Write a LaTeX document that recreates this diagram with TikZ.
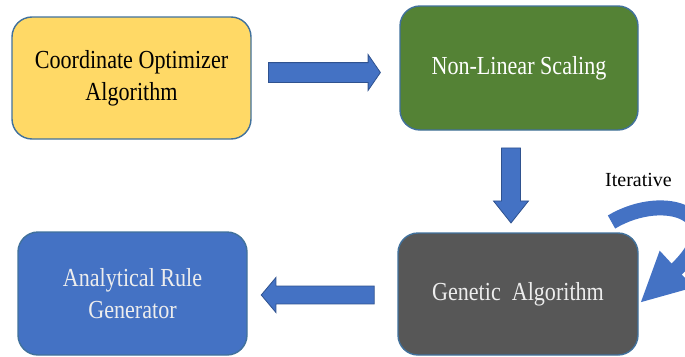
\documentclass[tikz,border=0pt]{standalone}
\usepackage{fontspec}
\setmainfont{Liberation Serif}
\newfontfamily\boxfont{Liberation Serif}[FakeStretch=0.85]
\usetikzlibrary{shapes.arrows,arrows.meta}
\definecolor{optyellow}{HTML}{FFD966}
\definecolor{scalegreen}{HTML}{548235}
\definecolor{gagray}{HTML}{575757}
\definecolor{rulesblue}{HTML}{4472C4}
\definecolor{boxedge}{HTML}{41719C}
\definecolor{arrowedge}{HTML}{2F528F}
\begin{document}
\begin{tikzpicture}[x=1pt,y=-1pt,
  stage/.style={draw=boxedge,line width=1.4pt,rounded corners=20pt,inner sep=0pt,
    align=center,font=\boxfont\fontsize{26}{32}\selectfont},
  flowarrow/.style={shape=single arrow,draw=arrowedge,fill=rulesblue,line width=0.8pt,
    inner xsep=0pt,minimum width=35pt,single arrow head extend=8pt}]
\useasboundingbox (0,0) rectangle (685,356);
% the four stages
\node [stage,fill=optyellow,minimum width=239pt,minimum height=122pt] (coord) at (131.5,78) {Coordinate Optimizer\\Algorithm};
\node [stage,fill=scalegreen,text=white,minimum width=238pt,minimum height=124pt] (scale) at (519,68) {Non-Linear Scaling};
\node [stage,fill=gagray,text=white!93!black,minimum width=240pt,minimum height=122pt] (genetic) at (518,294) {Genetic~ Algorithm};
\node [stage,fill=rulesblue,text=white!93!black,minimum width=229pt,minimum height=123pt] (rules) at (132.5,293.5) {Analytical Rule\\Generator};
% block arrows between them
\node [flowarrow,inner ysep=9.5pt,minimum height=112pt,single arrow tip angle=111] (toscale) at (321,72.5) {};
\node [flowarrow,inner ysep=9pt,minimum height=75pt,single arrow tip angle=77,rotate=-90] (togenetic) at (511,179.5) {};
\node [flowarrow,inner ysep=8pt,minimum height=113pt,single arrow tip angle=100,rotate=180] (torules) at (321.5,295) {};
% iterative loop
\coordinate (loopstart) at (611.5,222);
\coordinate (looptip) at (640,303);
\draw [rulesblue,line width=15pt,-{Triangle[width=46pt,length=50pt]}] (loopstart) .. controls (665,190) and (735,215) .. (looptip);
\node [font=\fontsize{20}{24}\selectfont] (iter) at (638.5,180) {Iterative};
\end{tikzpicture}
\end{document}
